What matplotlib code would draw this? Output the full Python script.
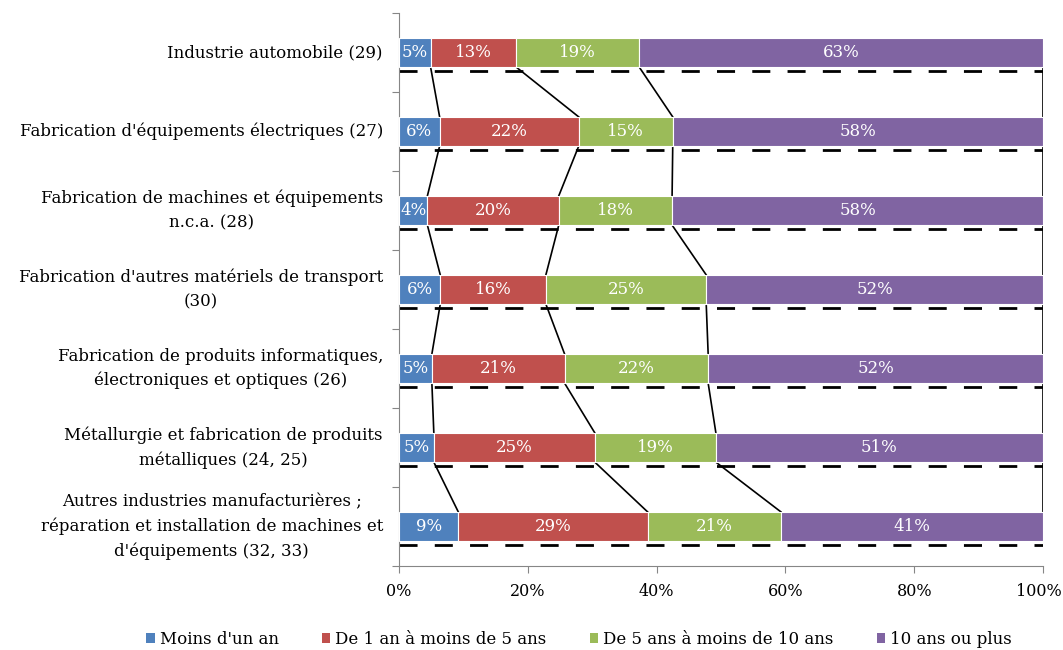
import matplotlib
matplotlib.use("Agg")
import matplotlib.pyplot as plt
import matplotlib.transforms as mtransforms
from matplotlib.patches import Patch
import numpy as np

# données (parts en %)
categories = [
    "Industrie automobile (29)",
    "Fabrication d'équipements électriques (27)",
    "Fabrication de machines et équipements\nn.c.a. (28)",
    "Fabrication d'autres matériels de transport\n(30)",
    "Fabrication de produits informatiques,\nélectroniques et optiques (26)",
    "Métallurgie et fabrication de produits\nmétalliques (24, 25)",
    "Autres industries manufacturières ;\nréparation et installation de machines et\nd'équipements (32, 33)",
]
moins_un_an = [4.9, 6.3, 4.4, 6.4, 5.1, 5.4, 9.2]
un_a_cinq = [13.3, 21.6, 20.4, 16.4, 20.6, 25.0, 29.4]
cinq_a_dix = [19.1, 14.6, 17.6, 24.9, 22.3, 18.8, 20.7]
dix_et_plus = [62.7, 57.5, 57.6, 52.3, 52.0, 50.8, 40.7]

series_noms = ["Moins d'un an", "De 1 an à moins de 5 ans",
               "De 5 ans à moins de 10 ans", "10 ans ou plus"]
couleurs = ["#4F81BD", "#C0504D", "#9BBB59", "#8064A2"]
x_ticks = [0, 20, 40, 60, 80, 100]
x_labels = ["0%", "20%", "40%", "60%", "80%", "100%"]

plt.rcParams['font.family'] = ['DejaVu Serif']
fs = 12

fig = plt.figure(figsize=(10.63, 6.5), dpi=100)
ax = fig.add_axes([0.3754, 0.1292, 0.6058, 0.8508])

y = np.arange(len(categories))
h = 0.37
valeurs = np.array([moins_un_an, un_a_cinq, cinq_a_dix, dix_et_plus])
cumul = np.cumsum(valeurs, axis=0)
gauche = np.zeros(len(categories))

for i in range(4):
    ax.barh(y, valeurs[i], left=gauche, height=h, color=couleurs[i],
            edgecolor="white", linewidth=0.8, zorder=3)
    for j in range(len(categories)):
        ax.text(gauche[j] + valeurs[i][j] / 2, y[j], f"{valeurs[i][j]:.0f}%",
                ha="center", va="center", color="white", fontsize=fs, zorder=4)
    gauche = gauche + valeurs[i]

# lignes de séries (style Excel)
for j in range(len(categories)):
    ax.plot([0, 100], [y[j] + h / 2 + 0.05] * 2, color="black", lw=2,
            dashes=(6.5, 6.2), zorder=2)
for i in range(4):
    for j in range(len(categories) - 1):
        ax.plot([cumul[i][j], cumul[i][j + 1]], [y[j] + h / 2, y[j + 1] - h / 2],
                color="black", lw=1.2, zorder=2)

ax.set_xlim(0, 100)
ax.set_ylim(len(categories) - 0.5, -0.5)
ax.set_xticks(x_ticks)
ax.set_xticklabels(x_labels, fontsize=11.5)
ax.set_yticks(np.arange(-0.5, len(categories), 1))
ax.set_yticklabels([])
ax.tick_params(axis="both", direction="out", length=5, color="#868686")
ax.tick_params(axis="x", pad=7)
for s in ["top", "right"]:
    ax.spines[s].set_visible(False)
for s in ["left", "bottom"]:
    ax.spines[s].set_color("#868686")

# décaler un peu "100%" pour qu'il ne soit pas coupé
dernier = ax.get_xticklabels()[-1]
dernier.set_transform(dernier.get_transform() +
                      mtransforms.ScaledTranslation(-4 / 100, 0, fig.dpi_scale_trans))

trans = mtransforms.blended_transform_factory(ax.transAxes, ax.transData)
for j, lab in enumerate(categories):
    ax.text(-0.025, y[j], lab, transform=trans, ha="right", va="center",
            multialignment="center", fontsize=fs, linespacing=1.55)

handles = [Patch(facecolor=c) for c in couleurs]
fig.legend(handles, series_noms, loc="lower center", ncol=4, frameon=False,
           bbox_to_anchor=(0.545, -0.02), fontsize=fs, handlelength=0.5,
           handleheight=0.5, handletextpad=0.3, columnspacing=2.6)

fig.savefig("out.png", dpi=100)
